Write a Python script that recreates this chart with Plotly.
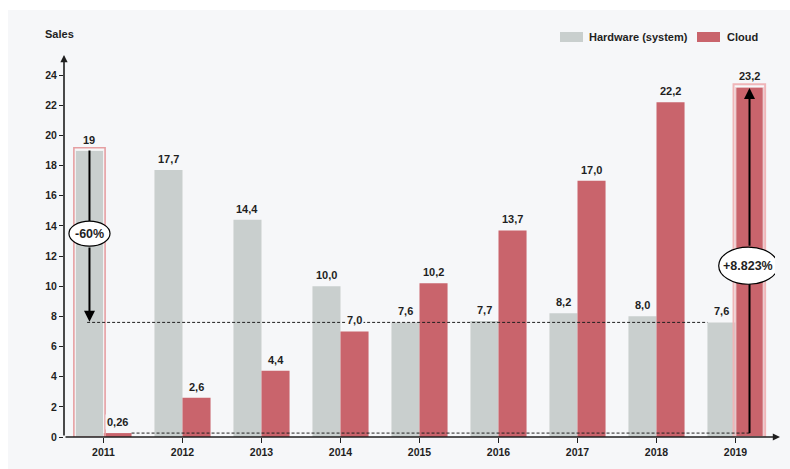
import plotly.graph_objects as go

years = ["2011", "2012", "2013", "2014", "2015", "2016", "2017", "2018", "2019"]
hardware = [19.0, 17.7, 14.4, 10.0, 7.6, 7.7, 8.2, 8.0, 7.6]
cloud = [0.26, 2.6, 4.4, 7.0, 10.2, 13.7, 17.0, 22.2, 23.2]
hardware_labels = ["19", "17,7", "14,4", "10,0", "7,6", "7,7", "8,2", "8,0", "7,6"]
cloud_labels = ["0,26", "2,6", "4,4", "7,0", "10,2", "13,7", "17,0", "22,2", "23,2"]
y_ticks = [0, 2, 4, 6, 8, 10, 12, 14, 16, 18, 20, 22, 24]
series_names = ["Hardware (system)", "Cloud"]
change_labels = ["-60%", "+8.823%"]

GRAY = "#c9cfce"
RED = "#c9646c"
BG = "#f6f7f9"
INK = "#1f1f1f"
FONT = "Liberation Sans, Arial, Helvetica, sans-serif"

BARGAP = 0.29
bw = (1 - BARGAP) / 2   # width of one bar in category units
off = bw / 2            # offset of each bar centre from category centre

fig = go.Figure()
fig.add_trace(go.Bar(x=years, y=hardware, name=series_names[0], marker_color=GRAY,
                     marker_line_width=0, hoverinfo="skip"))
fig.add_trace(go.Bar(x=years, y=cloud, name=series_names[1], marker_color=RED,
                     marker_line_width=0, hoverinfo="skip"))

L, R, T, B = 64, 15, 54, 32
W, H = 790, 469
pw, ph = W - L - R, H - T - B

def px2paper_x(px):
    return (px - L) / pw

def px2paper_y(py):
    return (H - B - py) / ph

shapes = []
annotations = []

# background panel
shapes.append(dict(type="rect", xref="paper", yref="paper",
                   x0=px2paper_x(8), x1=px2paper_x(W + 2), y0=px2paper_y(H + 2), y1=px2paper_y(10),
                   fillcolor=BG, line_width=0, layer="below"))

# highlight outlines
first, last = 0, len(years) - 1
shapes.append(dict(type="rect", xref="x", yref="y",
                   x0=first - bw - 0.02, x1=first + 0.02, y0=0, y1=hardware[first] + 0.18,
                   line=dict(color="#e59fa2", width=1.6), fillcolor="rgba(0,0,0,0)", layer="above"))
shapes.append(dict(type="rect", xref="x", yref="y",
                   x0=first - bw + 0.0, x1=first - 0.0, y0=0, y1=hardware[first],
                   line=dict(color="rgba(255,255,255,0.7)", width=0.8), fillcolor="rgba(0,0,0,0)", layer="above"))
shapes.append(dict(type="rect", xref="x", yref="y",
                   x0=last - 0.025, x1=last + bw + 0.02, y0=0, y1=cloud[last] + 0.2,
                   line=dict(color="#f0b5b8", width=2), fillcolor="rgba(0,0,0,0)", layer="above"))
shapes.append(dict(type="rect", xref="x", yref="y",
                   x0=last + 0.005, x1=last + bw - 0.005, y0=0, y1=cloud[last],
                   line=dict(color="rgba(255,255,255,0.85)", width=0.8), fillcolor="rgba(0,0,0,0)", layer="above"))

# dashed reference lines
shapes.append(dict(type="line", xref="x", yref="y",
                   x0=first - off - 0.03, x1=last - bw, y0=hardware[last], y1=hardware[last],
                   line=dict(color=INK, width=1, dash="3px,2px"), layer="above"))
shapes.append(dict(type="line", xref="x", yref="y",
                   x0=first + bw, x1=last + off, y0=cloud[first], y1=cloud[first],
                   line=dict(color=INK, width=1, dash="3px,2px"), layer="above"))

# arrow shafts (upper/lower part hidden behind ellipse)
e1_c, e1_h = 13.49, 0.83
e2_c, e2_h = 11.36, 1.23
shapes.append(dict(type="line", xref="x", yref="y",
                   x0=first - off, x1=first - off, y0=hardware[first], y1=e1_c,
                   line=dict(color="black", width=2), layer="above"))
shapes.append(dict(type="line", xref="x", yref="y",
                   x0=last + off, x1=last + off, y0=cloud[first], y1=e2_c,
                   line=dict(color="black", width=2), layer="above"))

# ellipses
shapes.append(dict(type="circle", xref="x", yref="y",
                   x0=first - off - 0.26, x1=first - off + 0.26, y0=e1_c - e1_h, y1=e1_c + e1_h,
                   fillcolor="white", line=dict(color="black", width=1.2), layer="above"))
shapes.append(dict(type="circle", xref="x", yref="y",
                   x0=last + off - 0.39, x1=last + off + 0.36, y0=e2_c - e2_h, y1=e2_c + e2_h,
                   fillcolor="white", line=dict(color="black", width=1.2), layer="above"))

# legend (custom)
shapes.append(dict(type="rect", xref="paper", yref="paper",
                   x0=px2paper_x(560), x1=px2paper_x(583), y0=px2paper_y(42), y1=px2paper_y(32),
                   fillcolor=GRAY, line_width=0))
shapes.append(dict(type="rect", xref="paper", yref="paper",
                   x0=px2paper_x(697), x1=px2paper_x(720), y0=px2paper_y(42), y1=px2paper_y(32),
                   fillcolor=RED, line_width=0))
annotations.append(dict(xref="paper", yref="paper", x=px2paper_x(587), y=px2paper_y(37),
                        text=series_names[0], showarrow=False, xanchor="left", yanchor="middle",
                        font=dict(family=FONT, size=11, color=INK, weight="bold")))
annotations.append(dict(xref="paper", yref="paper", x=px2paper_x(725), y=px2paper_y(37),
                        text=series_names[1], showarrow=False, xanchor="left", yanchor="middle",
                        font=dict(family=FONT, size=11, color=INK, weight="bold")))

# axis title
annotations.append(dict(xref="paper", yref="paper", x=px2paper_x(59), y=px2paper_y(34),
                        text="Sales", showarrow=False, xanchor="center", yanchor="middle",
                        font=dict(family=FONT, size=11, color=INK, weight="bold")))

# value labels
for i, (v, t) in enumerate(zip(hardware, hardware_labels)):
    annotations.append(dict(xref="x", yref="y", x=i - off, y=v, text=t, showarrow=False,
                            yanchor="bottom", yshift=3, borderpad=1,
                            bgcolor="rgba(0,0,0,0)" if i == first else BG,
                            font=dict(family=FONT, size=11, color=INK, weight="bold")))
for i, (v, t) in enumerate(zip(cloud, cloud_labels)):
    annotations.append(dict(xref="x", yref="y", x=i + off, y=v, text=t, showarrow=False,
                            yanchor="bottom", yshift=3, borderpad=1,
                            bgcolor="rgba(0,0,0,0)" if i == last else BG,
                            font=dict(family=FONT, size=11, color=INK, weight="bold")))

# arrows
annotations.append(dict(xref="x", yref="y", x=first - off, y=hardware[last] + 0.05,
                        axref="x", ayref="y", ax=first - off, ay=e1_c - e1_h,
                        text="", showarrow=True, arrowhead=2, arrowsize=1.1, arrowwidth=2,
                        arrowcolor="black", standoff=0, startstandoff=0))
annotations.append(dict(xref="x", yref="y", x=last + off, y=cloud[last] - 0.05,
                        axref="x", ayref="y", ax=last + off, ay=e2_c + e2_h,
                        text="", showarrow=True, arrowhead=2, arrowsize=1.1, arrowwidth=2,
                        arrowcolor="black", standoff=0, startstandoff=0))
annotations.append(dict(xref="x", yref="y", x=first - off, y=e1_c, text=change_labels[0],
                        showarrow=False, font=dict(family=FONT, size=12.5, color=INK, weight="bold")))
annotations.append(dict(xref="x", yref="y", x=last + off - 0.015, y=e2_c, text=change_labels[1],
                        showarrow=False, font=dict(family=FONT, size=12.5, color=INK, weight="bold")))

# axis lines with arrowheads
annotations.append(dict(xref="paper", yref="paper", x=0, y=px2paper_y(55),
                        ax=0, ay=H - B - 55, text="", showarrow=True, arrowhead=2,
                        arrowsize=0.9, arrowwidth=1.6, arrowcolor=INK, standoff=0))
annotations.append(dict(xref="paper", yref="paper", x=px2paper_x(780), y=0,
                        ax=-(780 - L), ay=0, text="", showarrow=True, arrowhead=2,
                        arrowsize=0.9, arrowwidth=1.6, arrowcolor=INK, standoff=0))

fig.update_layout(
    width=W, height=H,
    margin=dict(l=L, r=R, t=T, b=B, pad=0),
    paper_bgcolor="white", plot_bgcolor="rgba(0,0,0,0)",
    barmode="group", bargap=BARGAP, bargroupgap=0,
    showlegend=False,
    shapes=shapes, annotations=annotations,
    font=dict(family=FONT, color=INK),
    xaxis=dict(type="category", categoryorder="array", categoryarray=years,
               range=[-0.5, len(years) - 0.5], showgrid=False, zeroline=False, showline=False,
               ticks="outside", ticklen=5, tickwidth=1, tickcolor=INK,
               tickfont=dict(family=FONT, size=10.5, color=INK, weight="bold"), fixedrange=True),
    yaxis=dict(range=[0, 25.4], tickvals=y_ticks, showgrid=False, zeroline=False, showline=False,
               ticks="outside", ticklen=4, tickwidth=1, tickcolor=INK,
               tickfont=dict(family=FONT, size=10.5, color=INK, weight="bold"), fixedrange=True),
)

fig.write_html("out.html", config={"displayModeBar": False})
